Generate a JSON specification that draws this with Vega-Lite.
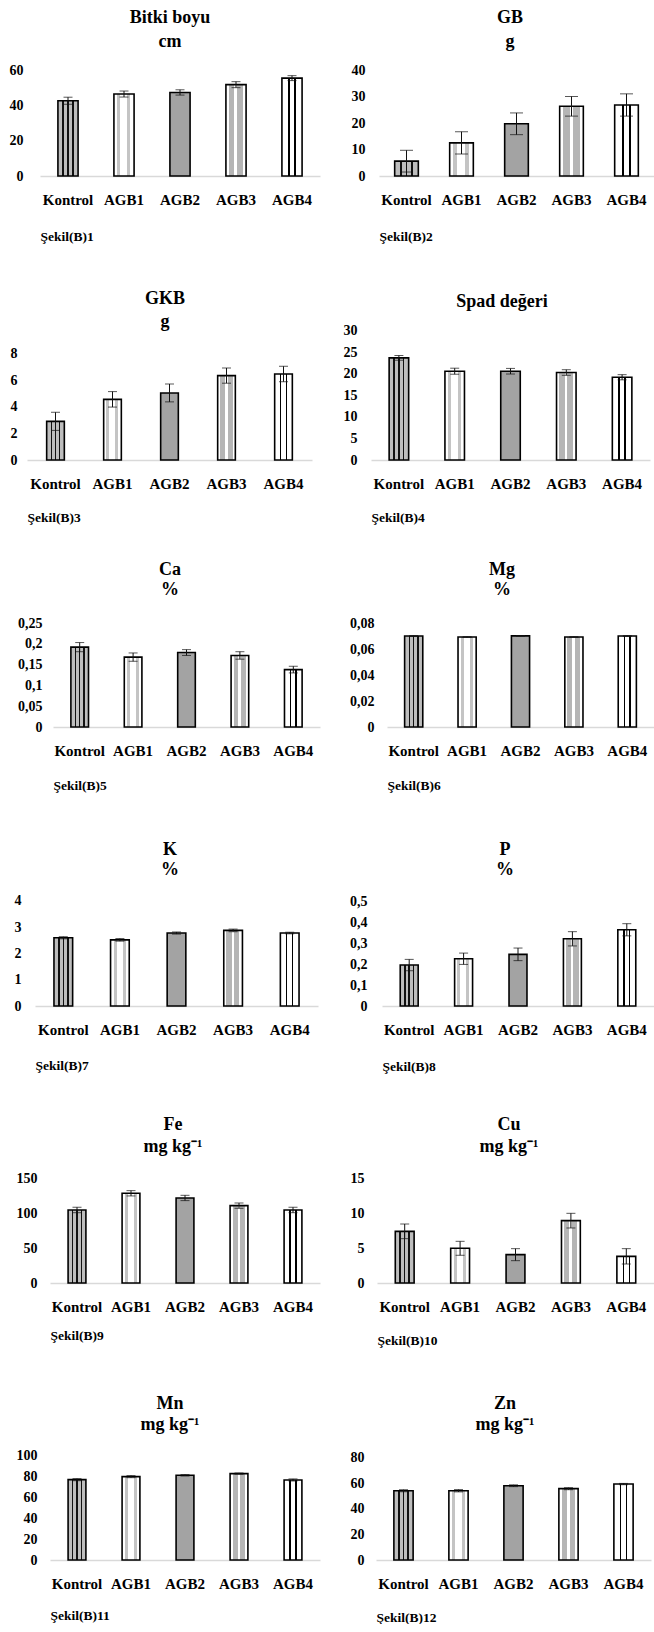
{
  "$schema": "https://vega.github.io/schema/vega-lite/v6.json",
  "padding": {"left": 9, "top": 8, "right": 0, "bottom": 0},
  "background": "white",
  "bounds": "flush",
  "align": "each",
  "columns": 2,
  "spacing": {"row": 150, "column": 37},
  "params": [
    {"name": "gK", "value": {"gradient": "linear", "x1": 0, "y1": 0, "x2": 1, "y2": 0, "stops": [
      {"offset": 0, "color": "#bdbdbd"}, {"offset": 0.22, "color": "#bdbdbd"}, {"offset": 0.22, "color": "#111111"}, {"offset": 0.30, "color": "#111111"}, {"offset": 0.30, "color": "#bdbdbd"},
      {"offset": 0.46, "color": "#bdbdbd"}, {"offset": 0.46, "color": "#111111"}, {"offset": 0.54, "color": "#111111"}, {"offset": 0.54, "color": "#bdbdbd"},
      {"offset": 0.70, "color": "#bdbdbd"}, {"offset": 0.70, "color": "#111111"}, {"offset": 0.78, "color": "#111111"}, {"offset": 0.78, "color": "#bdbdbd"}, {"offset": 1, "color": "#bdbdbd"}]}},
    {"name": "g1", "value": {"gradient": "linear", "x1": 0, "y1": 0, "x2": 1, "y2": 0, "stops": [
      {"offset": 0, "color": "#ffffff"}, {"offset": 0.16, "color": "#ffffff"}, {"offset": 0.16, "color": "#c4c4c4"}, {"offset": 0.32, "color": "#c4c4c4"}, {"offset": 0.32, "color": "#ffffff"},
      {"offset": 0.66, "color": "#ffffff"}, {"offset": 0.66, "color": "#c4c4c4"}, {"offset": 0.82, "color": "#c4c4c4"}, {"offset": 0.82, "color": "#ffffff"}, {"offset": 1, "color": "#ffffff"}]}},
    {"name": "g3", "value": {"gradient": "linear", "x1": 0, "y1": 0, "x2": 1, "y2": 0, "stops": [
      {"offset": 0, "color": "#ffffff"}, {"offset": 0.14, "color": "#ffffff"}, {"offset": 0.14, "color": "#b5b5b5"}, {"offset": 0.42, "color": "#b5b5b5"}, {"offset": 0.42, "color": "#ffffff"},
      {"offset": 0.56, "color": "#ffffff"}, {"offset": 0.56, "color": "#b5b5b5"}, {"offset": 0.84, "color": "#b5b5b5"}, {"offset": 0.84, "color": "#ffffff"}, {"offset": 1, "color": "#ffffff"}]}},
    {"name": "g4", "value": {"gradient": "linear", "x1": 0, "y1": 0, "x2": 1, "y2": 0, "stops": [
      {"offset": 0, "color": "#ffffff"}, {"offset": 0.30, "color": "#ffffff"}, {"offset": 0.30, "color": "#000000"}, {"offset": 0.38, "color": "#000000"}, {"offset": 0.38, "color": "#ffffff"},
      {"offset": 0.62, "color": "#ffffff"}, {"offset": 0.62, "color": "#000000"}, {"offset": 0.70, "color": "#000000"}, {"offset": 0.70, "color": "#ffffff"}, {"offset": 1, "color": "#ffffff"}]}}
  ],
  "datasets": {
    "d1": [{"cat": "Kontrol", "v": 42.6, "e": 2.0}, {"cat": "AGB1", "v": 46.4, "e": 1.7}, {"cat": "AGB2", "v": 47.3, "e": 1.5}, {"cat": "AGB3", "v": 51.7, "e": 1.7}, {"cat": "AGB4", "v": 55.4, "e": 1.4}],
    "d2": [{"cat": "Kontrol", "v": 5.6, "e": 4.1}, {"cat": "AGB1", "v": 12.5, "e": 4.2}, {"cat": "AGB2", "v": 19.7, "e": 4.1}, {"cat": "AGB3", "v": 26.3, "e": 3.7}, {"cat": "AGB4", "v": 26.8, "e": 4.2}],
    "d3": [{"cat": "Kontrol", "v": 2.9, "e": 0.68}, {"cat": "AGB1", "v": 4.55, "e": 0.58}, {"cat": "AGB2", "v": 5.03, "e": 0.67}, {"cat": "AGB3", "v": 6.33, "e": 0.57}, {"cat": "AGB4", "v": 6.45, "e": 0.58}],
    "d4": [{"cat": "Kontrol", "v": 23.7, "e": 0.55}, {"cat": "AGB1", "v": 20.6, "e": 0.7}, {"cat": "AGB2", "v": 20.6, "e": 0.65}, {"cat": "AGB3", "v": 20.3, "e": 0.65}, {"cat": "AGB4", "v": 19.2, "e": 0.6}],
    "d5": [{"cat": "Kontrol", "v": 0.192, "e": 0.011}, {"cat": "AGB1", "v": 0.168, "e": 0.01}, {"cat": "AGB2", "v": 0.179, "e": 0.007}, {"cat": "AGB3", "v": 0.172, "e": 0.009}, {"cat": "AGB4", "v": 0.138, "e": 0.008}],
    "d6": [{"cat": "Kontrol", "v": 0.07, "e": 0.0004}, {"cat": "AGB1", "v": 0.0692, "e": 0.0003}, {"cat": "AGB2", "v": 0.0701, "e": 0.0003}, {"cat": "AGB3", "v": 0.0692, "e": 0.0003}, {"cat": "AGB4", "v": 0.07, "e": 0.0003}],
    "d7": [{"cat": "Kontrol", "v": 2.6, "e": 0.04}, {"cat": "AGB1", "v": 2.52, "e": 0.05}, {"cat": "AGB2", "v": 2.78, "e": 0.04}, {"cat": "AGB3", "v": 2.88, "e": 0.05}, {"cat": "AGB4", "v": 2.78, "e": 0.03}],
    "d8": [{"cat": "Kontrol", "v": 0.195, "e": 0.027}, {"cat": "AGB1", "v": 0.225, "e": 0.027}, {"cat": "AGB2", "v": 0.246, "e": 0.03}, {"cat": "AGB3", "v": 0.32, "e": 0.034}, {"cat": "AGB4", "v": 0.363, "e": 0.029}],
    "d9": [{"cat": "Kontrol", "v": 104.6, "e": 3.9}, {"cat": "AGB1", "v": 128.5, "e": 3.8}, {"cat": "AGB2", "v": 121.8, "e": 3.8}, {"cat": "AGB3", "v": 110.8, "e": 3.8}, {"cat": "AGB4", "v": 104.6, "e": 3.9}],
    "d10": [{"cat": "Kontrol", "v": 7.4, "e": 1.05}, {"cat": "AGB1", "v": 4.97, "e": 1.0}, {"cat": "AGB2", "v": 4.06, "e": 0.86}, {"cat": "AGB3", "v": 8.93, "e": 1.05}, {"cat": "AGB4", "v": 3.82, "e": 1.1}],
    "d11": [{"cat": "Kontrol", "v": 77.0, "e": 1.0}, {"cat": "AGB1", "v": 79.9, "e": 1.0}, {"cat": "AGB2", "v": 81.2, "e": 0.7}, {"cat": "AGB3", "v": 82.8, "e": 0.6}, {"cat": "AGB4", "v": 76.7, "e": 1.0}],
    "d12": [{"cat": "Kontrol", "v": 54.0, "e": 0.8}, {"cat": "AGB1", "v": 54.0, "e": 0.9}, {"cat": "AGB2", "v": 57.9, "e": 0.7}, {"cat": "AGB3", "v": 55.6, "e": 0.8}, {"cat": "AGB4", "v": 59.2, "e": 0.5}]
  },
  "concat": [
    {
      "data": {"name": "d1"}, "width": 286, "height": 106,
      "title": {"text": ["Bitki boyu", "cm"], "offset": 12.5, "lineHeight": 24},
      "encoding": {
        "x": {"field": "cat", "type": "nominal", "sort": null, "scale": {"range": [13, 293], "paddingInner": 0.64, "paddingOuter": 0.32}, "axis": {"title": "Şekil(B)1", "titlePadding": 22}},
        "y": {"field": "v", "type": "quantitative", "title": null, "scale": {"domain": [0, 60], "nice": false}, "axis": {"values": [0, 20, 40, 60], "offset": 4}}
      },
      "layer": [
        {"mark": {"type": "bar", "fill": {"expr": "datum.cat === 'Kontrol' ? gK : datum.cat === 'AGB1' ? g1 : datum.cat === 'AGB2' ? '#a3a3a3' : datum.cat === 'AGB3' ? g3 : g4"}, "stroke": "#000000", "strokeWidth": 1.6}},
        {"mark": {"type": "errorbar", "color": "#111111", "thickness": 1, "ticks": {"size": 9}}, "encoding": {"yError": {"field": "e"}}}
      ]
    },
    {
      "data": {"name": "d2"}, "width": 304, "height": 106,
      "title": {"text": ["GB", "g"], "offset": 12.5, "dx": 8, "lineHeight": 24},
      "encoding": {
        "x": {"field": "cat", "type": "nominal", "sort": null, "scale": {"range": [29, 304], "paddingInner": 0.57, "paddingOuter": 0.285}, "axis": {"title": "Şekil(B)2", "titlePadding": 22}},
        "y": {"field": "v", "type": "quantitative", "title": null, "scale": {"domain": [0, 40], "nice": false}, "axis": {"values": [0, 10, 20, 30, 40], "offset": -15}}
      },
      "layer": [
        {"mark": {"type": "bar", "fill": {"expr": "datum.cat === 'Kontrol' ? gK : datum.cat === 'AGB1' ? g1 : datum.cat === 'AGB2' ? '#a3a3a3' : datum.cat === 'AGB3' ? g3 : g4"}, "stroke": "#000000", "strokeWidth": 1.6}},
        {"mark": {"type": "errorbar", "color": "#111111", "thickness": 1, "ticks": {"size": 13}}, "encoding": {"yError": {"field": "e"}}}
      ]
    },
    {
      "data": {"name": "d3"}, "width": 286, "height": 134,
      "title": {"text": ["GKB", "g"], "offset": -5, "dx": -5, "lineHeight": 23},
      "encoding": {
        "x": {"field": "cat", "type": "nominal", "sort": null, "scale": {"range": [0, 285], "paddingInner": 0.69, "paddingOuter": 0.345}, "axis": {"title": "Şekil(B)3", "titlePadding": 19}},
        "y": {"field": "v", "type": "quantitative", "title": null, "scale": {"domain": [0, 10.05], "nice": false}, "axis": {"values": [0, 2, 4, 6, 8], "offset": 10}}
      },
      "layer": [
        {"mark": {"type": "bar", "fill": {"expr": "datum.cat === 'Kontrol' ? gK : datum.cat === 'AGB1' ? g1 : datum.cat === 'AGB2' ? '#a3a3a3' : datum.cat === 'AGB3' ? g3 : g4"}, "stroke": "#000000", "strokeWidth": 1.6}},
        {"mark": {"type": "errorbar", "color": "#111111", "thickness": 1, "ticks": {"size": 9}}, "encoding": {"yError": {"field": "e"}}}
      ]
    },
    {
      "data": {"name": "d4"}, "width": 304, "height": 134,
      "title": {"text": "Spad değeri", "offset": 13},
      "encoding": {
        "x": {"field": "cat", "type": "nominal", "sort": null, "scale": {"range": [21, 300], "paddingInner": 0.65, "paddingOuter": 0.325}, "axis": {"title": "Şekil(B)4", "titlePadding": 19}},
        "y": {"field": "v", "type": "quantitative", "title": null, "scale": {"domain": [0, 31.09], "nice": false}, "axis": {"values": [0, 5, 10, 15, 20, 25, 30], "offset": -7}}
      },
      "layer": [
        {"mark": {"type": "bar", "fill": {"expr": "datum.cat === 'Kontrol' ? gK : datum.cat === 'AGB1' ? g1 : datum.cat === 'AGB2' ? '#a3a3a3' : datum.cat === 'AGB3' ? g3 : g4"}, "stroke": "#000000", "strokeWidth": 1.6}},
        {"mark": {"type": "errorbar", "color": "#111111", "thickness": 1, "ticks": {"size": 9}}, "encoding": {"yError": {"field": "e"}}}
      ]
    },
    {
      "data": {"name": "d5"}, "width": 286, "height": 117,
      "title": {"text": ["Ca", "%"], "offset": 11, "lineHeight": 20},
      "encoding": {
        "x": {"field": "cat", "type": "nominal", "sort": null, "scale": {"range": [26, 293], "paddingInner": 0.67, "paddingOuter": 0.335}, "axis": {"title": "Şekil(B)5", "titlePadding": 20}},
        "y": {"field": "v", "type": "quantitative", "title": null, "scale": {"domain": [0, 0.28125], "nice": false}, "axis": {"values": [0, 0.05, 0.1, 0.15, 0.2, 0.25], "offset": -15, "labelExpr": "replace(toString(datum.value), '.', ',')"}}
      },
      "layer": [
        {"mark": {"type": "bar", "fill": {"expr": "datum.cat === 'Kontrol' ? gK : datum.cat === 'AGB1' ? g1 : datum.cat === 'AGB2' ? '#a3a3a3' : datum.cat === 'AGB3' ? g3 : g4"}, "stroke": "#000000", "strokeWidth": 1.6}},
        {"mark": {"type": "errorbar", "color": "#111111", "thickness": 1, "ticks": {"size": 9}}, "encoding": {"yError": {"field": "e"}}}
      ]
    },
    {
      "data": {"name": "d6"}, "width": 304, "height": 117,
      "title": {"text": ["Mg", "%"], "offset": 11, "lineHeight": 20},
      "encoding": {
        "x": {"field": "cat", "type": "nominal", "sort": null, "scale": {"range": [37, 304], "paddingInner": 0.66, "paddingOuter": 0.33}, "axis": {"title": "Şekil(B)6", "titlePadding": 20}},
        "y": {"field": "v", "type": "quantitative", "title": null, "scale": {"domain": [0, 0.09], "nice": false}, "axis": {"values": [0, 0.02, 0.04, 0.06, 0.08], "offset": -24, "labelExpr": "replace(toString(datum.value), '.', ',')"}}
      },
      "layer": [
        {"mark": {"type": "bar", "fill": {"expr": "datum.cat === 'Kontrol' ? gK : datum.cat === 'AGB1' ? g1 : datum.cat === 'AGB2' ? '#a3a3a3' : datum.cat === 'AGB3' ? g3 : g4"}, "stroke": "#000000", "strokeWidth": 1.6}},
        {"mark": {"type": "errorbar", "color": "#111111", "thickness": 1, "ticks": {"size": 9}}, "encoding": {"yError": {"field": "e"}}}
      ]
    },
    {
      "data": {"name": "d7"}, "width": 286, "height": 129,
      "title": {"text": ["K", "%"], "offset": -2, "lineHeight": 20},
      "encoding": {
        "x": {"field": "cat", "type": "nominal", "sort": null, "scale": {"range": [8, 291], "paddingInner": 0.67, "paddingOuter": 0.335}, "axis": {"title": "Şekil(B)7", "titlePadding": 21}},
        "y": {"field": "v", "type": "quantitative", "title": null, "scale": {"domain": [0, 4.914], "nice": false}, "axis": {"values": [0, 1, 2, 3, 4], "offset": 6}}
      },
      "layer": [
        {"mark": {"type": "bar", "fill": {"expr": "datum.cat === 'Kontrol' ? gK : datum.cat === 'AGB1' ? g1 : datum.cat === 'AGB2' ? '#a3a3a3' : datum.cat === 'AGB3' ? g3 : g4"}, "stroke": "#000000", "strokeWidth": 1.6}},
        {"mark": {"type": "errorbar", "color": "#111111", "thickness": 1, "ticks": {"size": 9}}, "encoding": {"yError": {"field": "e"}}}
      ]
    },
    {
      "data": {"name": "d8"}, "width": 304, "height": 129,
      "title": {"text": ["P", "%"], "offset": -2, "dx": 3, "lineHeight": 20},
      "encoding": {
        "x": {"field": "cat", "type": "nominal", "sort": null, "scale": {"range": [32, 304], "paddingInner": 0.67, "paddingOuter": 0.335}, "axis": {"title": "Şekil(B)8", "titlePadding": 22}},
        "y": {"field": "v", "type": "quantitative", "title": null, "scale": {"domain": [0, 0.6143], "nice": false}, "axis": {"values": [0, 0.1, 0.2, 0.3, 0.4, 0.5], "offset": -17, "labelExpr": "replace(toString(datum.value), '.', ',')"}}
      },
      "layer": [
        {"mark": {"type": "bar", "fill": {"expr": "datum.cat === 'Kontrol' ? gK : datum.cat === 'AGB1' ? g1 : datum.cat === 'AGB2' ? '#a3a3a3' : datum.cat === 'AGB3' ? g3 : g4"}, "stroke": "#000000", "strokeWidth": 1.6}},
        {"mark": {"type": "errorbar", "color": "#111111", "thickness": 1, "ticks": {"size": 9}}, "encoding": {"yError": {"field": "e"}}}
      ]
    },
    {
      "data": {"name": "d9"}, "width": 286, "height": 127,
      "title": {"text": ["Fe", "mg kg⁻¹"], "offset": 0, "dx": 3, "lineHeight": 22},
      "encoding": {
        "x": {"field": "cat", "type": "nominal", "sort": null, "scale": {"range": [23, 293], "paddingInner": 0.67, "paddingOuter": 0.335}, "axis": {"title": "Şekil(B)9", "titlePadding": 14}},
        "y": {"field": "v", "type": "quantitative", "title": null, "scale": {"domain": [0, 181.9], "nice": false}, "axis": {"values": [0, 50, 100, 150], "offset": -10}}
      },
      "layer": [
        {"mark": {"type": "bar", "fill": {"expr": "datum.cat === 'Kontrol' ? gK : datum.cat === 'AGB1' ? g1 : datum.cat === 'AGB2' ? '#a3a3a3' : datum.cat === 'AGB3' ? g3 : g4"}, "stroke": "#000000", "strokeWidth": 1.6}},
        {"mark": {"type": "errorbar", "color": "#111111", "thickness": 1, "ticks": {"size": 9}}, "encoding": {"yError": {"field": "e"}}}
      ]
    },
    {
      "data": {"name": "d10"}, "width": 304, "height": 127,
      "title": {"text": ["Cu", "mg kg⁻¹"], "offset": 0, "dx": 7, "lineHeight": 22},
      "encoding": {
        "x": {"field": "cat", "type": "nominal", "sort": null, "scale": {"range": [27, 304], "paddingInner": 0.66, "paddingOuter": 0.33}, "axis": {"title": "Şekil(B)10", "titlePadding": 19}},
        "y": {"field": "v", "type": "quantitative", "title": null, "scale": {"domain": [0, 18.19], "nice": false}, "axis": {"values": [0, 5, 10, 15], "offset": -14}}
      },
      "layer": [
        {"mark": {"type": "bar", "fill": {"expr": "datum.cat === 'Kontrol' ? gK : datum.cat === 'AGB1' ? g1 : datum.cat === 'AGB2' ? '#a3a3a3' : datum.cat === 'AGB3' ? g3 : g4"}, "stroke": "#000000", "strokeWidth": 1.6}},
        {"mark": {"type": "errorbar", "color": "#111111", "thickness": 1, "ticks": {"size": 9}}, "encoding": {"yError": {"field": "e"}}}
      ]
    },
    {
      "data": {"name": "d11"}, "width": 286, "height": 127,
      "title": {"text": ["Mn", "mg kg⁻¹"], "offset": -1, "lineHeight": 21},
      "encoding": {
        "x": {"field": "cat", "type": "nominal", "sort": null, "scale": {"range": [23, 293], "paddingInner": 0.67, "paddingOuter": 0.335}, "axis": {"title": "Şekil(B)11", "titlePadding": 17}},
        "y": {"field": "v", "type": "quantitative", "title": null, "scale": {"domain": [0, 121.7], "nice": false}, "axis": {"values": [0, 20, 40, 60, 80, 100], "offset": -10}}
      },
      "layer": [
        {"mark": {"type": "bar", "fill": {"expr": "datum.cat === 'Kontrol' ? gK : datum.cat === 'AGB1' ? g1 : datum.cat === 'AGB2' ? '#a3a3a3' : datum.cat === 'AGB3' ? g3 : g4"}, "stroke": "#000000", "strokeWidth": 1.6}},
        {"mark": {"type": "errorbar", "color": "#111111", "thickness": 1, "ticks": {"size": 9}}, "encoding": {"yError": {"field": "e"}}}
      ]
    },
    {
      "data": {"name": "d12"}, "width": 304, "height": 127,
      "title": {"text": ["Zn", "mg kg⁻¹"], "offset": -1, "dx": 3, "lineHeight": 21},
      "encoding": {
        "x": {"field": "cat", "type": "nominal", "sort": null, "scale": {"range": [26, 301], "paddingInner": 0.65, "paddingOuter": 0.325}, "axis": {"title": "Şekil(B)12", "titlePadding": 19}},
        "y": {"field": "v", "type": "quantitative", "title": null, "scale": {"domain": [0, 99.0], "nice": false}, "axis": {"values": [0, 20, 40, 60, 80], "offset": -14}}
      },
      "layer": [
        {"mark": {"type": "bar", "fill": {"expr": "datum.cat === 'Kontrol' ? gK : datum.cat === 'AGB1' ? g1 : datum.cat === 'AGB2' ? '#a3a3a3' : datum.cat === 'AGB3' ? g3 : g4"}, "stroke": "#000000", "strokeWidth": 1.6}},
        {"mark": {"type": "errorbar", "color": "#111111", "thickness": 1, "ticks": {"size": 9}}, "encoding": {"yError": {"field": "e"}}}
      ]
    }
  ],
  "config": {
    "font": "Liberation Serif",
    "view": {"stroke": null},
    "title": {"font": "Liberation Serif", "fontSize": 18, "fontWeight": "bold", "color": "#000000", "lineHeight": 22, "anchor": "middle", "frame": "group"},
    "axis": {"labelFont": "Liberation Serif", "labelFontWeight": "bold", "labelFontSize": 14, "labelColor": "#000000", "grid": false, "ticks": false, "tickSize": 0, "minExtent": 0, "maxExtent": 400, "titleFont": "Liberation Serif", "titleFontWeight": "bold", "titleFontSize": 13.5, "titleColor": "#000000"},
    "axisX": {"domainColor": "#d9d9d9", "domainWidth": 1.3, "labelAngle": 0, "labelFontSize": 15, "labelPadding": 16, "titleAnchor": "start", "titleAlign": "left", "labelOverlap": false},
    "axisY": {"domain": false, "labelPadding": 0}
  }
}
